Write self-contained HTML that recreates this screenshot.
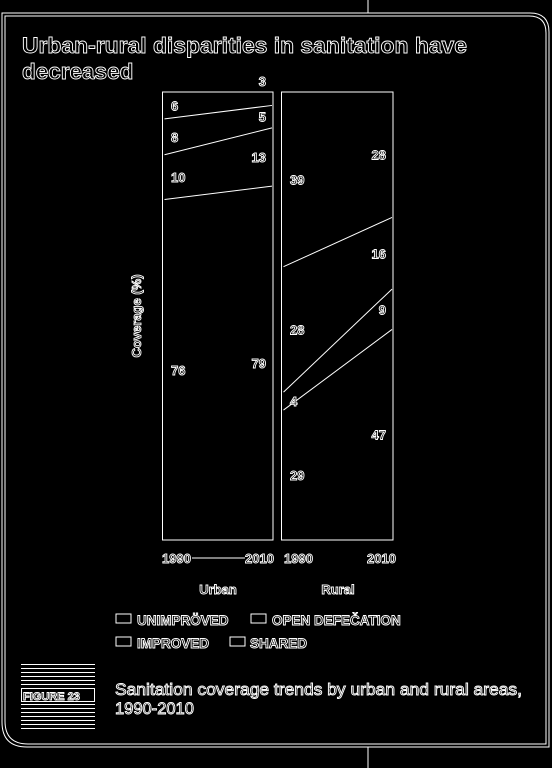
<!DOCTYPE html>
<html><head><meta charset="utf-8">
<style>
html,body{margin:0;padding:0;background:#000;width:552px;height:768px;overflow:hidden}
svg{display:block}
text{font-family:"Liberation Sans",sans-serif;fill:#000;stroke:#fff;stroke-width:0.9}
</style></head>
<body>
<svg id="chart" width="552" height="768" viewBox="0 0 552 768">
  <g fill="none" stroke="#fff" stroke-width="1">
    <path d="M2,13 H530 Q549,13 549,32 V747 H27 Q2,747 2,722 Z"/>
    <path d="M5,16 H529 Q546,16 546,33 V744 H28 Q5,744 5,721 Z"/>
    <line x1="368" y1="0" x2="368" y2="13"/>
    <line x1="368" y1="747" x2="368" y2="768"/>
  </g>
  <g font-size="22.5" font-weight="bold">
    <text x="22" y="53" textLength="445" lengthAdjust="spacingAndGlyphs">Urban-rural disparities in sanitation have</text>
    <text x="22" y="79">decreased</text>
  </g>
  <g id="plot"></g>
  <text font-size="13" font-weight="bold" transform="translate(141,316) rotate(-90)" text-anchor="middle">Coverage (%)</text>
  <g font-size="13" font-weight="bold">
    <text x="162" y="563">1990</text>
    <line x1="192" y1="558" x2="245" y2="558" stroke="#fff"/>
    <text x="245" y="563">2010</text>
    <text x="284" y="563">1990</text>
    <text x="367" y="563">2010</text>
    <text x="218" y="594" text-anchor="middle">Urban</text>
    <text x="338" y="594" text-anchor="middle">Rural</text>
  </g>
  <g font-size="13.5" font-weight="bold" fill="none">
    <g>
      <rect x="116" y="614" width="15" height="9" fill="none" stroke="#fff"/>
      <text x="137" y="625">UNIMPRÖVED</text>
    </g>
    <g>
      <rect x="251" y="614" width="15" height="9" fill="none" stroke="#fff"/>
      <text x="272" y="625">OPEN DEFEČATION</text>
    </g>
    <g>
      <rect x="116" y="637" width="15" height="9" fill="none" stroke="#fff"/>
      <text x="137" y="648">IMPROVED</text>
    </g>
    <g>
      <rect x="230" y="637" width="15" height="9" fill="none" stroke="#fff"/>
      <text x="250" y="648">SHARED</text>
    </g>
  </g>
  <g id="badge" stroke="#fff" fill="none"></g>
  <text x="23" y="700" font-size="11" font-weight="bold">FIGURE 23</text>
  <g font-size="16.5">
    <text x="115" y="695" textLength="407" lengthAdjust="spacingAndGlyphs">Sanitation coverage trends by urban and rural areas,</text>
    <text x="115" y="714">1990-2010</text>
  </g>
</svg>
<script>
// Stacked values bottom->top: improved, shared, unimproved, open defecation
const categories = ["Improved", "Shared", "Unimproved", "Open defecation"];
const urban1990 = [76, 10, 8, 6];
const urban2010 = [79, 13, 5, 3];
const rural1990 = [29, 4, 28, 39];
const rural2010 = [47, 9, 16, 28];

const NS = "http://www.w3.org/2000/svg";
const plot = document.getElementById("plot");
const y0 = 540, y100 = 92;
function yScale(p){ return y0 - (p/100)*(y0 - y100); }

function mk(tag, attrs){
  const e = document.createElementNS(NS, tag);
  for (const k in attrs) e.setAttribute(k, attrs[k]);
  return e;
}

function panel(name, xl, xr, a, b, lx1, lx2){
  const g = mk("g", {});
  
  
  const r = mk("rect", {x:xl, y:y100, width:xr-xl, height:y0-y100, fill:"none", stroke:"#fff", "stroke-width":1});
  
  
  g.appendChild(r);
  let ca = 0, cb = 0;
  for (let i = 0; i < a.length; i++){
    const pa = ca, pb = cb;
    ca += a[i]; cb += b[i];
    if (i < a.length - 1){
      const ln = mk("line", {x1:xl+2, y1:yScale(ca), x2:xr-1, y2:yScale(cb), stroke:"#fff", "stroke-width":1});
      
      
      g.appendChild(ln);
    }
    let ya = (yScale(pa) + yScale(ca))/2 + 5;
    let yb = (yScale(pb) + yScale(cb))/2 + 5;
    if (b[i] < 4) yb = y100 - 6;
    const t1 = mk("text", {x:lx1, y:ya, "font-size":13, "font-weight":"bold"});
    t1.textContent = a[i];
    
    
    const t2 = mk("text", {x:lx2, y:yb, "font-size":13, "font-weight":"bold", "text-anchor":"end"});
    t2.textContent = b[i];
    
    
    g.appendChild(t1); g.appendChild(t2);
  }
  plot.appendChild(g);
}
panel("urban", 162.5, 273, urban1990, urban2010, 171, 266);
panel("rural", 281.5, 393, rural1990, rural2010, 290, 386);

const badge = document.getElementById("badge");
const ys = [664,668,672,676,680,684,704,708,712,716,720,724,728];
for (const y of ys){
  const l = mk("line", {x1:21, y1:y+0.5, x2:95, y2:y+0.5});
  
  
  badge.appendChild(l);
}
const br = mk("rect", {x:21.5, y:688.5, width:73, height:13});


badge.appendChild(br);
</script>
</body></html>
